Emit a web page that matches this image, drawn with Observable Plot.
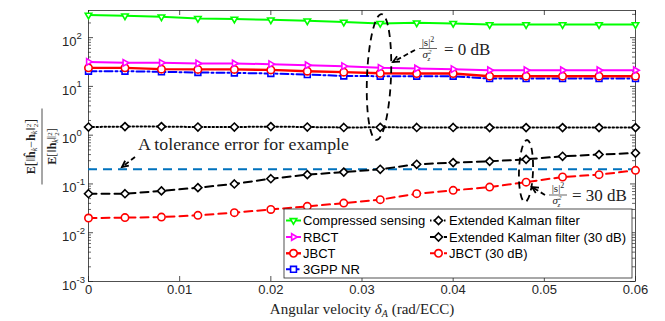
<!DOCTYPE html>
<html><head><meta charset="utf-8">
<script src="https://cdn.jsdelivr.net/npm/d3@7"></script>
<script src="https://cdn.jsdelivr.net/npm/@observablehq/plot@0.6"></script>
<style>body{margin:0;background:#fff;} svg{display:block;}</style>
</head><body><div id="chart"></div>
<script>
// ---- data ----
const xValues = [0, 0.004, 0.008, 0.012, 0.016, 0.02, 0.024, 0.028, 0.032, 0.036, 0.04, 0.044, 0.048, 0.052, 0.056, 0.06];
const compressedSensing = [290, 280, 267, 248, 240, 232, 221, 208, 196, 201, 196, 185, 185, 185, 185, 185];
const rbct = [31.8, 30.4, 30.4, 29.5, 29.5, 28.6, 27.2, 26.0, 24.0, 23.3, 22.6, 21.5, 21.5, 21.5, 21.5, 21.5];
const jbct = [24, 24, 22.6, 22.3, 22.3, 21.8, 20.5, 19.6, 18.6, 18.4, 18.4, 16.2, 16.2, 16.2, 16.2, 16.2];
const nr3gpp = [20.5, 20.5, 19.9, 19.3, 18.9, 18.4, 17.5, 16.4, 16.2, 16.2, 16.2, 14.5, 14.5, 14.5, 14.5, 14.5];
const ekf = [1.47, 1.5, 1.5, 1.47, 1.47, 1.5, 1.47, 1.44, 1.45, 1.44, 1.44, 1.43, 1.43, 1.43, 1.43, 1.43];
const ekf30 = [0.063, 0.063, 0.072, 0.084, 0.10, 0.128, 0.155, 0.175, 0.20, 0.253, 0.274, 0.291, 0.32, 0.369, 0.40, 0.431];
const jbct30 = [0.020, 0.0204, 0.0209, 0.0227, 0.0258, 0.030, 0.0347, 0.0405, 0.0476, 0.0632, 0.0739, 0.0863, 0.109, 0.139, 0.155, 0.19];
const toleranceError = [0.2];

const xTicks = [0, 0.01, 0.02, 0.03, 0.04, 0.05, 0.06];
const xTickLabels = ["0", "0.01", "0.02", "0.03", "0.04", "0.05", "0.06"];
const yMajorTicks = [1e-3, 1e-2, 1e-1, 1, 10, 100];
const yExponents = ["-3", "-2", "-1", "0", "1", "2"];
const yMinorTicks = [];
for (let e = -3; e <= 2; e++) for (let m = 2; m <= 9; m++) { const v = m * Math.pow(10, e); if (v < 360) yMinorTicks.push(v); }

const rows = xValues.map((x, i) => ({x, cs: compressedSensing[i], rbct: rbct[i], jbct: jbct[i], nr: nr3gpp[i], ekf: ekf[i], ekf30: ekf30[i], jbct30: jbct30[i]}));

const series = [
  {key: "ekf", label: "Extended Kalman filter", stroke: "#000000", w: 2, dash: "1.5,2.5", symbol: "diamond2", d3sym: d3.symbolDiamond2, rot: 0, r: 3.6},
  {key: "ekf30", label: "Extended Kalman filter (30 dB)", stroke: "#000000", w: 2, dash: "8,5", symbol: "diamond2", d3sym: d3.symbolDiamond2, rot: 0, r: 3.6},
  {key: "jbct30", label: "JBCT (30 dB)", stroke: "#FF0000", w: 2, dash: "8,5", symbol: "circle", d3sym: d3.symbolCircle, rot: 0, r: 3.7},
  {key: "nr", label: "3GPP NR", stroke: "#0000FF", w: 2, dash: "8,3,2,3", symbol: "square", d3sym: d3.symbolSquare, rot: 0, r: 3.3},
  {key: "jbct", label: "JBCT", stroke: "#FF0000", w: 2.4, dash: null, symbol: "circle", d3sym: d3.symbolCircle, rot: 0, r: 3.7},
  {key: "rbct", label: "RBCT", stroke: "#FF00FF", w: 2, dash: null, symbol: "triangle2", d3sym: d3.symbolTriangle2, rot: 90, r: 3.1},
  {key: "cs", label: "Compressed sensing", stroke: "#00FF00", w: 2, dash: null, symbol: "triangle2", d3sym: d3.symbolTriangle2, rot: 180, r: 3.1}
];

// ---- layout ----
const W = 665, H = 321, mL = 88, mR = 30, mT = 10, mB = 40;
const innerW = W - mL - mR, innerH = H - mT - mB;
const tickColor = "#262626";

const marks = [
  Plot.frame({stroke: tickColor, strokeWidth: 0.8}),
  Plot.tickX(xTicks, {x: d => d, insetTop: innerH - 5, stroke: tickColor, strokeWidth: 0.8}),
  Plot.tickX(xTicks, {x: d => d, insetBottom: innerH - 5, stroke: tickColor, strokeWidth: 0.8}),
  Plot.tickY(yMajorTicks, {y: d => d, insetRight: innerW - 5, stroke: tickColor, strokeWidth: 0.8}),
  Plot.tickY(yMajorTicks, {y: d => d, insetLeft: innerW - 5, stroke: tickColor, strokeWidth: 0.8}),
  Plot.tickY(yMinorTicks, {y: d => d, insetRight: innerW - 3, stroke: tickColor, strokeWidth: 0.7}),
  Plot.tickY(yMinorTicks, {y: d => d, insetLeft: innerW - 3, stroke: tickColor, strokeWidth: 0.7}),
  Plot.text(xTicks, {x: d => d, frameAnchor: "bottom", dy: 12, text: (d, i) => xTickLabels[i], fontSize: 13, fill: tickColor}),
  Plot.text(yMajorTicks, {y: d => d, frameAnchor: "left", textAnchor: "end", dx: -12, dy: 4, text: () => "10", fontSize: 13, fill: tickColor}),
  Plot.text(yMajorTicks, {y: d => d, frameAnchor: "left", textAnchor: "start", dx: -12, dy: -2, text: (d, i) => yExponents[i], fontSize: 9.5, fill: tickColor}),
  Plot.ruleY(toleranceError, {stroke: "#0072BD", strokeWidth: 2, strokeDasharray: "9,6"})
];
for (const s of series) {
  marks.push(Plot.line(rows, {x: "x", y: s.key, stroke: s.stroke, strokeWidth: s.w, strokeDasharray: s.dash || undefined}));
}
for (const s of series) {
  marks.push(Plot.dot(rows, {x: "x", y: s.key, symbol: s.symbol, r: s.r, stroke: s.stroke, fill: "white", strokeWidth: 1.6, rotate: s.rot}));
}

const chart = Plot.plot({
  width: W, height: H,
  marginLeft: mL, marginRight: mR, marginTop: mT, marginBottom: mB,
  style: {fontFamily: "'Liberation Sans', Arial, sans-serif", background: "white"},
  x: {domain: [0, 0.06], axis: null},
  y: {type: "log", domain: [1e-3, 360], axis: null},
  marks
});
document.getElementById("chart").appendChild(chart);

// ---- annotations, labels and legend ----
const svg = d3.select(chart);
const serif = "'Liberation Serif', 'Times New Roman', serif";
const ann = svg.append("g").attr("text-anchor", "start");

function arrow(x1, y1, x2, y2) {
  ann.append("line").attr("x1", x1).attr("y1", y1).attr("x2", x2).attr("y2", y2)
    .attr("stroke", "black").attr("stroke-width", 1.8).attr("stroke-dasharray", "5,3");
  const a = Math.atan2(y2 - y1, x2 - x1), L = 7, sp = 0.45;
  const p = [[x2 - L * Math.cos(a - sp), y2 - L * Math.sin(a - sp)], [x2, y2], [x2 - L * Math.cos(a + sp), y2 - L * Math.sin(a + sp)]];
  ann.append("path").attr("d", "M" + p.map(q => q.join(",")).join("L"))
    .attr("fill", "none").attr("stroke", "black").attr("stroke-width", 1.8);
}
function ellipse(cx, cy, rx, ry, rot) {
  ann.append("ellipse").attr("cx", cx).attr("cy", cy).attr("rx", rx).attr("ry", ry)
    .attr("transform", `rotate(${rot},${cx},${cy})`)
    .attr("fill", "none").attr("stroke", "black").attr("stroke-width", 1.8).attr("stroke-dasharray", "7,5");
}
function snrLabel(cx, barY, rest, restX) {
  const n = ann.append("text").attr("x", cx).attr("y", barY - 3).attr("text-anchor", "middle")
    .attr("font-family", serif).attr("font-size", 11).attr("fill", "#222");
  n.append("tspan").text("|s|");
  n.append("tspan").attr("dy", -4).attr("font-size", 8).text("2");
  ann.append("line").attr("x1", cx - 9).attr("x2", cx + 9).attr("y1", barY).attr("y2", barY).attr("stroke", "#222").attr("stroke-width", 0.7);
  const d = ann.append("text").attr("x", cx - 1).attr("y", barY + 9).attr("text-anchor", "middle")
    .attr("font-family", serif).attr("font-size", 11).attr("font-style", "italic").attr("fill", "#222");
  d.append("tspan").text("σ");
  d.append("tspan").attr("font-size", 7).attr("dy", -4).text("2");
  d.append("tspan").attr("font-size", 7).attr("dx", -4).attr("dy", 7).text("z");
  ann.append("text").attr("x", restX).attr("y", barY + 6).attr("text-anchor", "start").attr("font-family", serif)
    .attr("font-size", 17).attr("fill", "#222").attr("xml:space", "preserve").text(rest);
}

// tolerance annotation
ann.append("text").attr("x", 138).attr("y", 150).attr("text-anchor", "start").attr("font-family", serif).attr("font-size", 16.5)
  .attr("fill", "#222").attr("textLength", 211).attr("lengthAdjust", "spacingAndGlyphs").text("A tolerance error for example");
arrow(135, 157, 122, 167);

// 0 dB annotation
ellipse(379, 77, 12, 63, 2.3);
arrow(415, 50, 393, 62);
snrLabel(428, 48.5, "= 0 dB", 444);

// 30 dB annotation
ellipse(526, 171, 7, 31, 2);
arrow(545, 195, 532, 187);
snrLabel(558, 195, "= 30 dB", 572);

// x axis label
const xl = svg.append("text").attr("x", 362).attr("y", 314).attr("text-anchor", "middle")
  .attr("font-family", serif).attr("font-size", 15).attr("fill", "#222");
xl.append("tspan").text("Angular velocity ");
xl.append("tspan").attr("font-style", "italic").text("δ");
xl.append("tspan").attr("font-style", "italic").attr("font-size", 10).attr("dy", 3).text("A");
xl.append("tspan").attr("dy", -3).text(" (rad/ECC)");

// y axis label (fraction, rotated)
const yl = svg.append("g").attr("transform", "translate(42,146.5) rotate(-90)")
  .attr("font-family", serif).attr("fill", "#222");
yl.append("line").attr("x1", -38).attr("x2", 38).attr("y1", 0).attr("y2", 0).attr("stroke", "#222").attr("stroke-width", 0.8);
const num = yl.append("text").attr("x", 0).attr("y", -7).attr("text-anchor", "middle").attr("font-size", 12);
num.append("tspan").attr("font-weight", "bold").text("E");
num.append("tspan").attr("font-size", 15).text("[");
num.append("tspan").text("‖");
num.append("tspan").attr("font-weight", "bold").text("ĥ");
num.append("tspan").attr("font-size", 8).attr("dy", 2).attr("font-style", "italic").text("k");
num.append("tspan").attr("dy", -2).text("−");
num.append("tspan").attr("font-weight", "bold").text("h");
num.append("tspan").attr("font-size", 8).attr("dy", 2).attr("font-style", "italic").text("k");
num.append("tspan").attr("dy", -2).text("‖");
num.append("tspan").attr("font-size", 7).attr("dy", -4).text("2");
num.append("tspan").attr("font-size", 7).attr("dx", -3.5).attr("dy", 7).text("2");
num.append("tspan").attr("font-size", 15).attr("dy", -3).text("]");
const den = yl.append("text").attr("x", 0).attr("y", 14).attr("text-anchor", "middle").attr("font-size", 12);
den.append("tspan").attr("font-weight", "bold").text("E");
den.append("tspan").text("[‖");
den.append("tspan").attr("font-weight", "bold").text("h");
den.append("tspan").attr("font-size", 8).attr("dy", 2).attr("font-style", "italic").text("k");
den.append("tspan").attr("dy", -2).text("‖");
den.append("tspan").attr("font-size", 7).attr("dy", -4).text("2");
den.append("tspan").attr("font-size", 7).attr("dx", -3.5).attr("dy", 7).text("2");
den.append("tspan").attr("dy", -3).text("]");

// legend
const lg = svg.append("g").attr("font-family", "'Liberation Sans', Arial, sans-serif").attr("font-size", 13).attr("text-anchor", "start");
lg.append("rect").attr("x", 284).attr("y", 209).attr("width", 348).attr("height", 69)
  .attr("fill", "white").attr("stroke", tickColor).attr("stroke-width", 0.8);
const legendItems = [
  {key: "cs", col: 0, row: 0}, {key: "rbct", col: 0, row: 1}, {key: "jbct", col: 0, row: 2}, {key: "nr", col: 0, row: 3},
  {key: "ekf", col: 1, row: 0}, {key: "ekf30", col: 1, row: 1}, {key: "jbct30", col: 1, row: 2}
];
const rowY = [220.5, 237, 253.3, 269.3];
const colX = [{l0: 286, l1: 301, m: 293.5, t: 303}, {l0: 430, l1: 447, m: 438.5, t: 449}];
for (const it of legendItems) {
  const s = series.find(d => d.key === it.key);
  const c = colX[it.col], y = rowY[it.row];
  const ln = lg.append("line").attr("x1", c.l0).attr("x2", c.l1).attr("y1", y).attr("y2", y)
    .attr("stroke", s.stroke).attr("stroke-width", s.w);
  if (s.dash) ln.attr("stroke-dasharray", it.key === "ekf" ? "1.5,2" : (it.key === "nr" ? "4,2,1.5,2" : "5,2"));
  lg.append("path").attr("d", d3.symbol(s.d3sym, Math.PI * s.r * s.r)())
    .attr("transform", `translate(${c.m},${y}) rotate(${s.rot})`)
    .attr("fill", "white").attr("stroke", s.stroke).attr("stroke-width", 1.6);
  lg.append("text").attr("x", c.t).attr("y", y).attr("dy", "0.35em").attr("text-anchor", "start").attr("fill", "#000").text(s.label);
}
</script>
</body></html>
